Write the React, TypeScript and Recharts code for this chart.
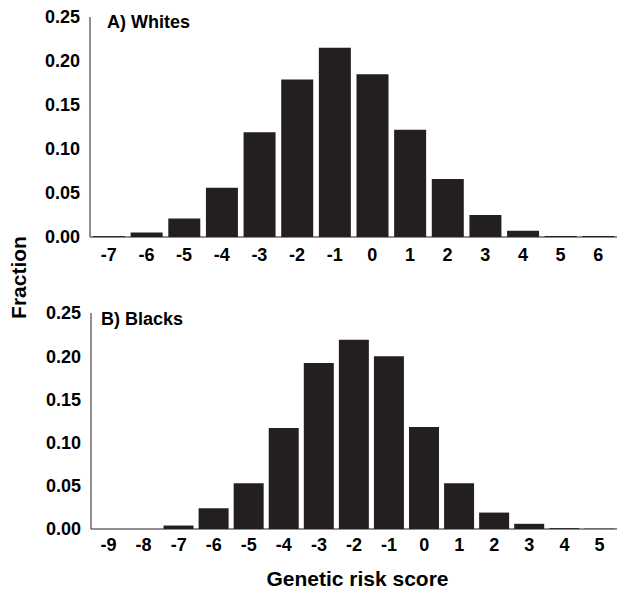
import { BarChart, Bar, XAxis, YAxis } from "recharts";

const whiteScores = ["-7", "-6", "-5", "-4", "-3", "-2", "-1", "0", "1", "2", "3", "4", "5", "6"];
const whiteFraction = [0.001, 0.005, 0.021, 0.056, 0.119, 0.179, 0.215, 0.185, 0.122, 0.066, 0.025, 0.007, 0.001, 0.001];

const blackScores = ["-9", "-8", "-7", "-6", "-5", "-4", "-3", "-2", "-1", "0", "1", "2", "3", "4", "5"];
const blackFraction = [0, 0, 0.004, 0.024, 0.053, 0.117, 0.192, 0.219, 0.2, 0.118, 0.053, 0.019, 0.006, 0.001, 0.0004];

const yTicks = [0, 0.05, 0.1, 0.15, 0.2, 0.25];

const INK = "#231f20";
const FONT = "'Liberation Sans', Arial, Helvetica, sans-serif";

const tickStyle = { fill: "#000", fontSize: 18, fontWeight: "bold", fontFamily: FONT };

function Panel({
  scores,
  values,
  top,
  marginTop,
  xHeight,
  yWidth,
  gap,
  xMargin,
}: {
  scores: string[];
  values: number[];
  top: number;
  marginTop: number;
  xHeight: number;
  yWidth: number;
  gap: number;
  xMargin: number;
}) {
  const data = scores.map((s, i) => ({ score: s, fraction: values[i] }));
  return (
    <div style={{ position: "absolute", left: 0, top, width: 617, height: 270 }}>
      <BarChart
        width={617}
        height={270}
        data={data}
        margin={{ top: marginTop, right: 0, left: 0, bottom: 0 }}
        barCategoryGap={gap}
      >
        <XAxis
          dataKey="score"
          interval={0}
          height={xHeight}
          tickLine={false}
          tickSize={6}
          tickMargin={xMargin}
          axisLine={{ stroke: INK }}
          tick={tickStyle}
        />
        <YAxis
          width={yWidth}
          domain={[0, 0.25]}
          ticks={yTicks}
          tickFormatter={(v: number) => v.toFixed(2)}
          tickLine={false}
          tickSize={6}
          tickMargin={4}
          axisLine={{ stroke: INK }}
          tick={tickStyle}
        />
        <Bar dataKey="fraction" fill={INK} isAnimationActive={false} />
      </BarChart>
    </div>
  );
}

export default function App() {
  return (
    <div style={{ position: "absolute", left: 0, top: 0, width: 617, height: 590, background: "#fff" }}>
      <Panel scores={whiteScores} values={whiteFraction} top={0} marginTop={17} xHeight={33} yWidth={90} gap={3} xMargin={5} />
      <Panel scores={blackScores} values={blackFraction} top={290} marginTop={23} xHeight={31} yWidth={91} gap={2.4} xMargin={3} />
      <svg
        width={617}
        height={590}
        style={{ position: "absolute", left: 0, top: 0, pointerEvents: "none" }}
        fontFamily={FONT}
        fontWeight="bold"
      >
        <text x={107} y={27.5} fontSize={18} fill="#000">
          A) Whites
        </text>
        <text x={101} y={324.5} fontSize={18} fill="#000">
          B) Blacks
        </text>
        <text x={26} y={277.5} fontSize={21} fill="#000" textAnchor="middle" transform="rotate(-90 26 277.5)">
          Fraction
        </text>
        <text x={357.5} y={585.5} fontSize={21} fill="#000" textAnchor="middle">
          Genetic risk score
        </text>
      </svg>
    </div>
  );
}
